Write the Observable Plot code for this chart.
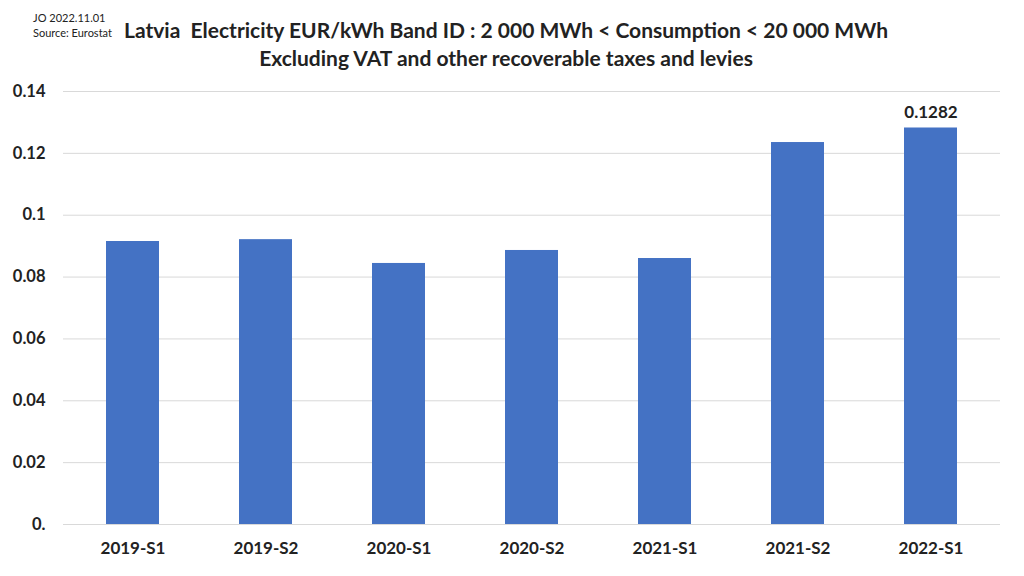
<!DOCTYPE html>
<html>
<head>
<meta charset="utf-8">
<script src="https://cdn.jsdelivr.net/npm/d3@7"></script>
<script src="https://cdn.jsdelivr.net/npm/@observablehq/plot@0.6"></script>
<style>
  html, body { margin: 0; padding: 0; background: #fff; width: 1024px; height: 576px; overflow: hidden; font-family: Lato, "Open Sans", sans-serif; }
  #wrap { position: relative; width: 1024px; height: 576px; }
  #chart { position: absolute; left: 0; top: 0; }
  .note { position: absolute; left: 33px; font-size: 11px; color: #222; line-height: 15px; }
  .title { position: absolute; left: 0; width: 1012px; text-align: center; font-weight: bold; font-size: 21px; color: #222; }
</style>
</head>
<body>
<div id="wrap">
  <div id="chart"></div>
  <div class="note" style="top:10px">JO 2022.11.01</div>
  <div class="note" style="top:25px">Source: Eurostat</div>
  <div class="title" style="top:17px">Latvia&nbsp; Electricity EUR/kWh Band ID : 2 000 MWh &lt; Consumption &lt; 20 000 MWh</div>
  <div class="title" style="top:45px">Excluding VAT and other recoverable taxes and levies</div>
</div>
<script>
const periods = ["2019-S1", "2019-S2", "2020-S1", "2020-S2", "2021-S1", "2021-S2", "2022-S1"];
const prices = [0.0915, 0.0921, 0.0844, 0.0886, 0.0860, 0.1235, 0.1282];
const yTicks = [0, 0.02, 0.04, 0.06, 0.08, 0.1, 0.12, 0.14];
const yTickLabels = ["0.", "0.02", "0.04", "0.06", "0.08", "0.1", "0.12", "0.14"];
const labelled = ["2022-S1"];

const data = periods.map((p, i) => ({period: p, value: prices[i]}));
const tickLabel = new Map(yTicks.map((t, i) => [t, yTickLabels[i]]));

const chart = Plot.plot({
  width: 1024,
  height: 576,
  marginTop: 91,
  marginBottom: 52,
  marginLeft: 63,
  marginRight: 24,
  style: {fontFamily: "Lato, 'Open Sans', sans-serif", fontSize: "17px", fontWeight: "bold", color: "#222", background: "transparent"},
  x: {domain: periods, paddingInner: 0.6, paddingOuter: 0.3, label: null},
  y: {domain: [0, 0.14], label: null},
  marks: [
    Plot.gridY(yTicks, {stroke: "#d9d9d9", strokeOpacity: 1, strokeWidth: 1}),
    Plot.barY(data, {x: "period", y: "value", fill: "#4472C4"}),
    Plot.axisY(yTicks, {tickSize: 0, tickPadding: 18, tickFormat: d => tickLabel.get(d), fontSize: 16.5, fontWeight: "bold", label: null}),
    Plot.axisX({tickSize: 0, tickPadding: 17, fontSize: 17, fontWeight: "bold", label: null}),
    Plot.text(data.filter(d => labelled.includes(d.period)), {x: "period", y: "value", text: d => String(d.value), dy: -15, fontSize: 17, fontWeight: "bold", fill: "#222"})
  ]
});
document.getElementById("chart").appendChild(chart);
</script>
</body>
</html>
